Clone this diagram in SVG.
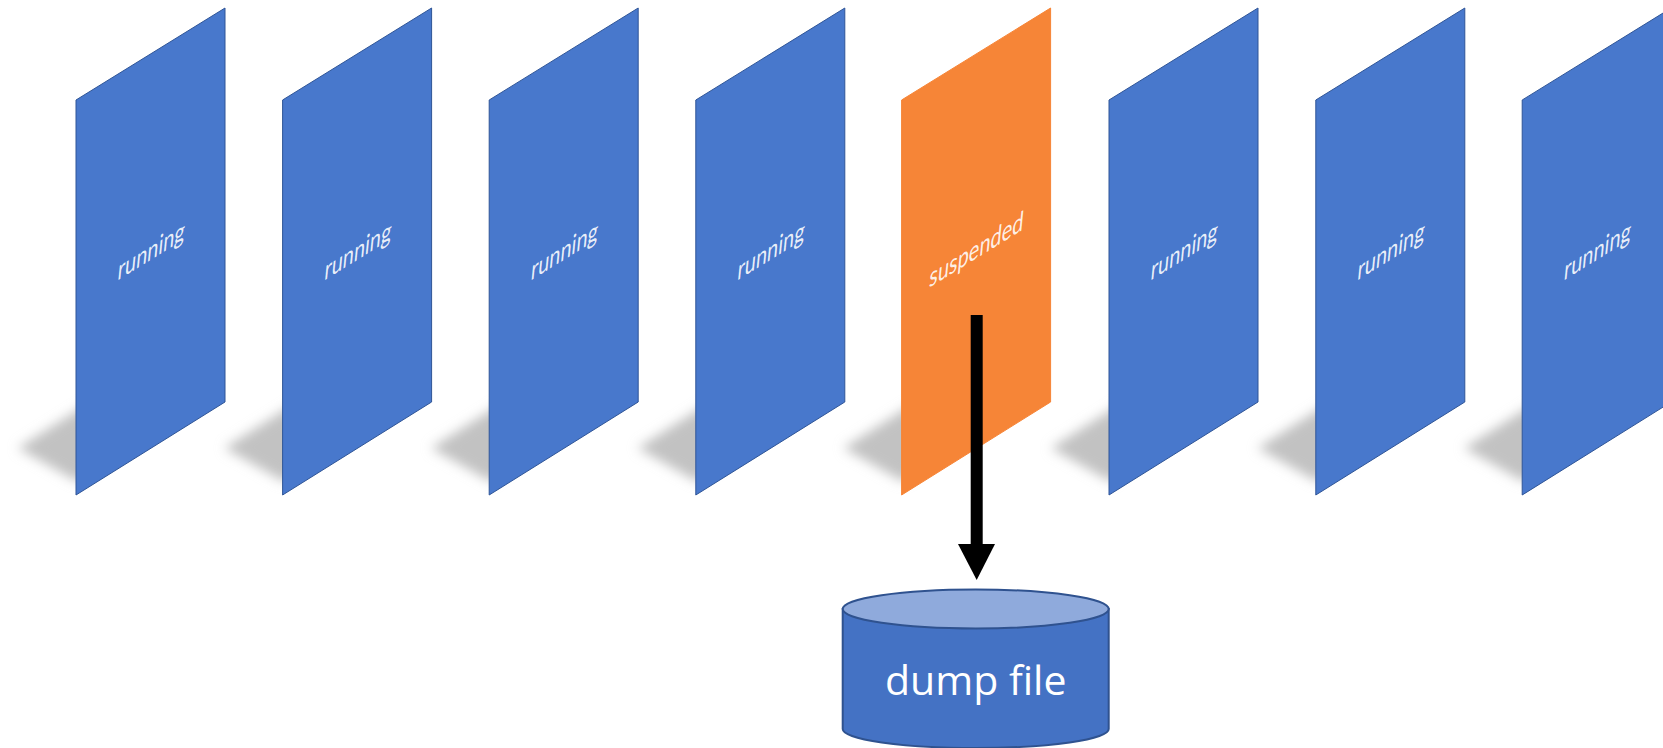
<svg xmlns="http://www.w3.org/2000/svg" xmlns:xlink="http://www.w3.org/1999/xlink" width="1663" height="748" viewBox="0 0 1663 748">
<style>
.panel{fill:#4878CC;stroke:#2F5597;stroke-width:1}
.panel-s{fill:#F68537;stroke:#F68537;stroke-width:1}
.ptext{font-family:Lato,"Open Sans","Liberation Sans",sans-serif;font-size:21px;fill:#ffffff;fill-opacity:0.9;text-anchor:middle}
.shadow{fill:#c2c2c2;filter:url(#blur)}
.cyl{fill:#4472C4;stroke:#2F528F;stroke-width:2}
.cyltop{fill:#8FAADC;stroke:#2F528F;stroke-width:2}
.ctext{font-family:"Open Sans","Liberation Sans",sans-serif;font-size:41px;fill:#ffffff;text-anchor:middle}
</style>
<defs>
<filter id="blur" x="-50%" y="-50%" width="200%" height="200%"><feGaussianBlur stdDeviation="6"/></filter>
<polygon id="sh" points="-58,448 30,392 30,460 2,482"/>
<polygon id="pg" points="0,100 149,8 149,402 0,495"/>
</defs>
<rect width="1663" height="748" fill="#ffffff"/>
<g id="panel1" transform="translate(76,0)">
<use xlink:href="#sh" class="shadow"/><use xlink:href="#pg" class="panel"/>
<text class="ptext" transform="translate(74.5,260) skewY(-31.7) skewX(-6) scale(0.95,1.25)">running</text></g>
<g id="panel2" transform="translate(282.6,0)">
<use xlink:href="#sh" class="shadow"/><use xlink:href="#pg" class="panel"/>
<text class="ptext" transform="translate(74.5,260) skewY(-31.7) skewX(-6) scale(0.95,1.25)">running</text></g>
<g id="panel3" transform="translate(489.2,0)">
<use xlink:href="#sh" class="shadow"/><use xlink:href="#pg" class="panel"/>
<text class="ptext" transform="translate(74.5,260) skewY(-31.7) skewX(-6) scale(0.95,1.25)">running</text></g>
<g id="panel4" transform="translate(695.8,0)">
<use xlink:href="#sh" class="shadow"/><use xlink:href="#pg" class="panel"/>
<text class="ptext" transform="translate(74.5,260) skewY(-31.7) skewX(-6) scale(0.95,1.25)">running</text></g>
<g id="panel5" transform="translate(901.6,0)">
<use xlink:href="#sh" class="shadow"/><use xlink:href="#pg" class="panel-s"/>
<text class="ptext" transform="translate(74,259) skewY(-31.7) skewX(-6) scale(0.95,1.25)">suspended</text></g>
<g id="panel6" transform="translate(1109,0)">
<use xlink:href="#sh" class="shadow"/><use xlink:href="#pg" class="panel"/>
<text class="ptext" transform="translate(74.5,260) skewY(-31.7) skewX(-6) scale(0.95,1.25)">running</text></g>
<g id="panel7" transform="translate(1315.8,0)">
<use xlink:href="#sh" class="shadow"/><use xlink:href="#pg" class="panel"/>
<text class="ptext" transform="translate(74.5,260) skewY(-31.7) skewX(-6) scale(0.95,1.25)">running</text></g>
<g id="panel8" transform="translate(1522.2,0)">
<use xlink:href="#sh" class="shadow"/><use xlink:href="#pg" class="panel"/>
<text class="ptext" transform="translate(74.5,260) skewY(-31.7) skewX(-6) scale(0.95,1.25)">running</text></g>
<g id="connectors">
<rect x="970.7" y="315" width="12" height="230" fill="#000000"/>
<polygon points="958,544 995,544 976.7,580" fill="#000000"/>
</g>
<g id="dumpfile">
<path class="cyl" d="M842.7,609 L842.7,729 A133,19 0 0 0 1108.7,729 L1108.7,609 Z"/>
<ellipse class="cyltop" cx="975.7" cy="609" rx="133" ry="19.5"/>
<text class="ctext" x="975.7" y="695">dump file</text>
</g>
</svg>
